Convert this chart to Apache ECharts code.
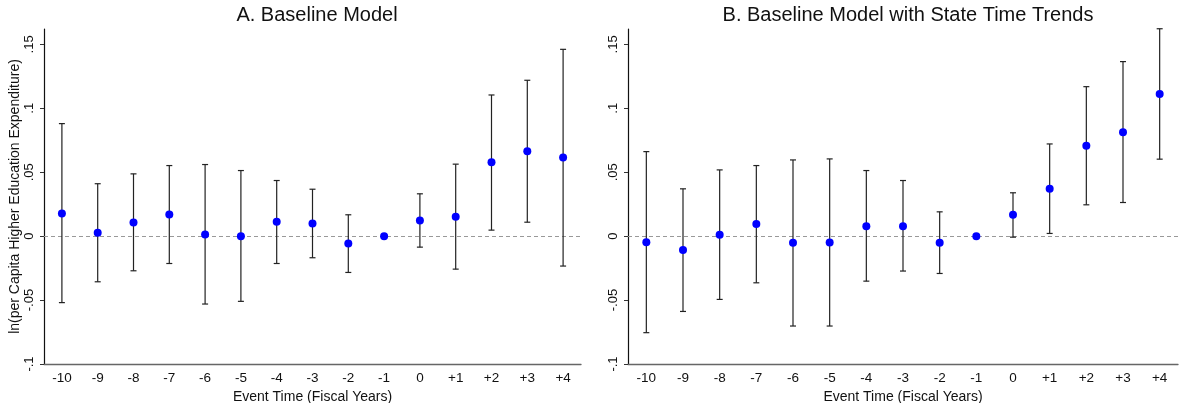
<!DOCTYPE html>
<html>
<head>
<meta charset="utf-8">
<script src="https://cdn.jsdelivr.net/npm/echarts@6/dist/echarts.min.js"></script>
<style>
  html, body { margin: 0; padding: 0; background: #fff; }
  #chart { width: 1183px; height: 403px; }
</style>
</head>
<body>
<div id="chart"></div>
<script>
// event time categories
const eventTimes = ['-10', '-9', '-8', '-7', '-6', '-5', '-4', '-3', '-2', '-1', '0', '+1', '+2', '+3', '+4']

// panel A: baseline model
const coefA = [0.0177, 0.0026, 0.0107, 0.0169, 0.0013, 0.0000, 0.0112, 0.0099, -0.0057, 0, 0.0122, 0.0151, 0.0578, 0.0664, 0.0615]
const lowA = [-0.0520, -0.0357, -0.0271, -0.0214, -0.0531, -0.0510, -0.0214, -0.0169, -0.0284, null, -0.0086, -0.0258, 0.0047, 0.0109, -0.0234]
const highA = [0.0880, 0.0410, 0.0487, 0.0552, 0.0560, 0.0513, 0.0435, 0.0367, 0.0167, null, 0.0331, 0.0563, 0.1104, 0.1219, 0.1461]

// panel B: baseline model with state time trends
const coefB = [-0.0047, -0.0109, 0.0010, 0.0094, -0.0052, -0.0049, 0.0078, 0.0078, -0.0052, 0, 0.0167, 0.0370, 0.0706, 0.0813, 0.1112]
const lowB = [-0.0755, -0.0589, -0.0495, -0.0365, -0.0703, -0.0703, -0.0352, -0.0273, -0.0292, null, -0.0008, 0.0021, 0.0245, 0.0263, 0.0602]
const highB = [0.0661, 0.0370, 0.0518, 0.0552, 0.0596, 0.0604, 0.0513, 0.0435, 0.0190, null, 0.0339, 0.0721, 0.1169, 0.1365, 0.1622]

const yTicks = [-0.1, -0.05, 0, 0.05, 0.1, 0.15]
const titles = ['A. Baseline Model', 'B. Baseline Model with State Time Trends']

const font = 'Liberation Sans, Arial, sans-serif'

function fmtTick (v) {
  const r = Math.round(v * 100) / 100
  if (!yTicks.some(t => Math.abs(t - r) < 1e-9) || Math.abs(v - r) > 1e-6) return ''
  if (r === 0) return '0'
  return String(r).replace('0.', '.')
}

function barData (low, high) {
  const out = []
  low.forEach((l, i) => {
    if (l !== null && high[i] !== null) out.push([i, l, high[i]])
  })
  return out
}

function renderBar (params, api) {
  const i = api.value(0)
  const lo = api.coord([i, api.value(1)])
  const hi = api.coord([i, api.value(2)])
  const w = 3
  const style = { stroke: '#222', lineWidth: 1.2 }
  return {
    type: 'group',
    children: [
      { type: 'line', shape: { x1: lo[0], y1: lo[1], x2: hi[0], y2: hi[1] }, style },
      { type: 'line', shape: { x1: hi[0] - w, y1: hi[1], x2: hi[0] + w, y2: hi[1] }, style },
      { type: 'line', shape: { x1: lo[0] - w, y1: lo[1], x2: lo[0] + w, y2: lo[1] }, style }
    ]
  }
}

const grids = [
  { left: 44, right: 602, top: 29, bottom: 39, outerBoundsMode: 'none' },
  { left: 628, right: 5, top: 29, bottom: 39, outerBoundsMode: 'none' }
]

const xAxes = grids.map((g, k) => ({
  type: 'category',
  gridIndex: k,
  data: eventTimes,
  boundaryGap: true,
  name: 'Event Time (Fiscal Years)',
  nameLocation: 'middle',
  nameGap: 22,
  nameTextStyle: { color: '#111', fontSize: 14, fontFamily: font },
  axisLine: { onZero: false, lineStyle: { color: '#666', width: 1.3 } },
  axisTick: { alignWithLabel: true, length: 4, lineStyle: { color: '#444' } },
  axisLabel: { color: '#111', fontSize: 13.5, fontFamily: font, margin: 7, interval: 0 },
  splitLine: { show: false }
}))

const yAxes = grids.map((g, k) => ({
  type: 'value',
  gridIndex: k,
  min: -0.1,
  max: 0.162,
  interval: 0.05,
  name: k === 0 ? 'ln(per Capita Higher Education Expenditure)' : '',
  nameLocation: 'middle',
  nameRotate: 90,
  nameGap: 21,
  nameTextStyle: { color: '#111', fontSize: 14, fontFamily: font },
  axisLine: { show: true, onZero: false, lineStyle: { color: '#111', width: 1.2 } },
  axisTick: { show: true, length: 4, lineStyle: { color: '#333' } },
  axisLabel: { color: '#111', fontSize: 13, fontFamily: font, rotate: 90, margin: 8, formatter: fmtTick, showMaxLabel: false },
  splitLine: { show: false }
}))

const panels = [[coefA, lowA, highA], [coefB, lowB, highB]]
const series = []
panels.forEach(([coef, low, high], k) => {
  series.push({
    type: 'custom',
    xAxisIndex: k,
    yAxisIndex: k,
    renderItem: renderBar,
    encode: { x: 0, y: [1, 2] },
    data: barData(low, high),
    z: 2
  })
  series.push({
    type: 'scatter',
    xAxisIndex: k,
    yAxisIndex: k,
    data: coef,
    symbol: 'circle',
    symbolSize: 8,
    itemStyle: { color: '#0000ff', opacity: 1 },
    z: 3,
    markLine: {
      silent: true,
      symbol: 'none',
      label: { show: false },
      lineStyle: { color: '#999', type: [4, 3], width: 1 },
      data: [{ yAxis: 0 }],
      z: 1
    }
  })
})

const chart = echarts.init(document.getElementById('chart'), null, { renderer: 'canvas' })
chart.setOption({
  animation: false,
  backgroundColor: '#fff',
  title: titles.map((t, k) => ({
    text: t,
    left: k === 0 ? 312 : 903,
    textAlign: 'center',
    top: 0,
    textStyle: { fontSize: 20, fontWeight: 'normal', color: '#111', fontFamily: font }
  })),
  grid: grids,
  xAxis: xAxes,
  yAxis: yAxes,
  series
})
</script>
</body>
</html>
